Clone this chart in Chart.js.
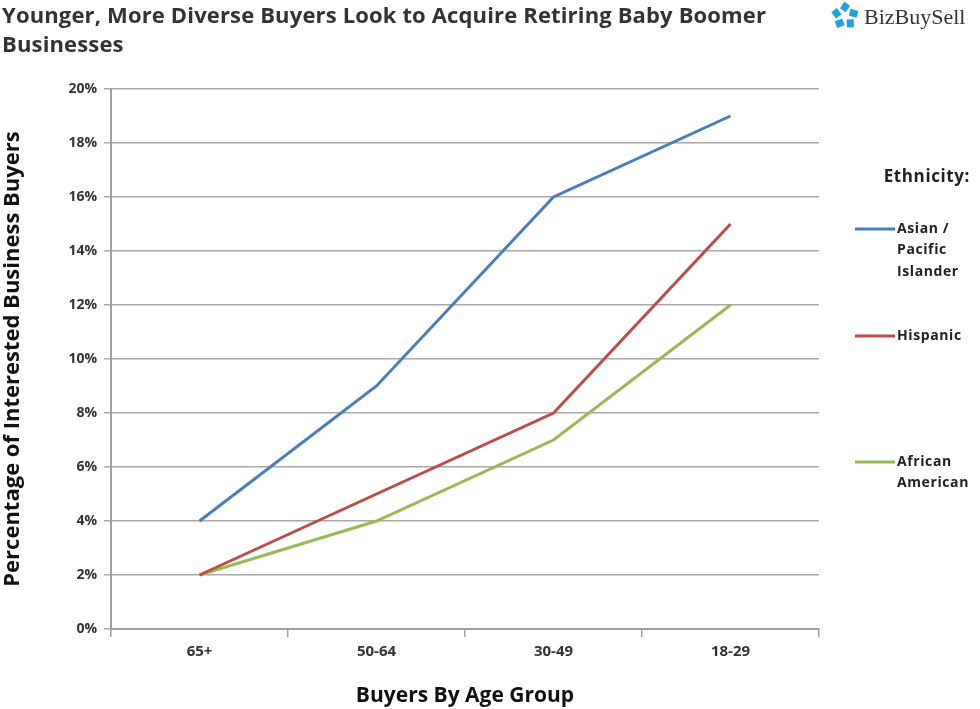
<!DOCTYPE html>
<html>
<head>
<meta charset="utf-8">
<script src="https://cdn.jsdelivr.net/npm/chart.js@4"></script>
<style>
  html, body { margin: 0; padding: 0; background: #fff; }
  #wrap { position: relative; width: 980px; height: 709px; }
</style>
</head>
<body>
<div id="wrap"><canvas id="buyers-chart" width="980" height="709"></canvas></div>
<script>
const ageGroups = ["65+", "50-64", "30-49", "18-29"];
const asianPacific = [4, 9, 16, 19];
const hispanic = [2, 5, 8, 15];
const africanAmerican = [2, 4, 7, 12];
const seriesNames = [["Asian /", "Pacific", "Islander"], ["Hispanic"], ["African", "American"]];
const seriesColors = ["#4a7ebb", "#be4b48", "#98b954"];

const chartTitle = ["Younger, More Diverse Buyers Look to Acquire Retiring Baby Boomer", "Businesses"];

//Draw title, logo and the side legend
const decorPlugin = {
  id: "decor",
  afterDraw(chart) {
    const ctx = chart.ctx;
    ctx.save();
    // title
    ctx.fillStyle = "#333";
    ctx.font = "bold 22px 'Open Sans'";
    ctx.letterSpacing = "0.15px";
    ctx.textBaseline = "alphabetic";
    ctx.textAlign = "left";
    ctx.fillText(chartTitle[0], 2, 23);
    ctx.fillText(chartTitle[1], 2, 52);

    // logo icon
    ctx.letterSpacing = "0px";
    ctx.fillStyle = "#1fa3dc";
    const cx = 845, cy = 16;
    for (let i = 0; i < 5; i++) {
      const a = i * Math.PI * 2 / 5 - Math.PI / 2;
      ctx.save();
      ctx.translate(cx + Math.cos(a) * 9, cy + Math.sin(a) * 9);
      ctx.rotate(a + 0.6);
      ctx.fillRect(-4, -3.5, 8, 7);
      ctx.restore();
    }
    ctx.fillStyle = "#333";
    ctx.font = "22px 'Liberation Serif'";
    ctx.fillText("BizBuySell", 864, 24);

    // legend
    ctx.fillStyle = "#222";
    ctx.font = "bold 17px 'Open Sans'";
    ctx.letterSpacing = "0.6px";
    ctx.textAlign = "right";
    ctx.fillText("Ethnicity:", 970, 182);
    ctx.textAlign = "left";
    ctx.font = "bold 14px 'Open Sans'";
    const rowY = [229, 336, 462];
    chart.data.datasets.forEach((ds, i) => {
      ctx.strokeStyle = ds.borderColor;
      ctx.lineWidth = 3;
      ctx.beginPath();
      ctx.moveTo(855, rowY[i]);
      ctx.lineTo(895, rowY[i]);
      ctx.stroke();
      ctx.textBaseline = "middle";
      seriesNames[i].forEach((line, j) => {
        ctx.fillText(line, 897, rowY[i] + j * 21.5);
      });
    });
    ctx.restore();
  }
};

const ctx = document.getElementById("buyers-chart").getContext("2d");
const buyersChart = new Chart(ctx, {
  type: "line",
  data: {
    labels: ageGroups,
    datasets: [
      { label: "Asian / Pacific Islander", data: asianPacific, borderColor: seriesColors[0] },
      { label: "Hispanic", data: hispanic, borderColor: seriesColors[1] },
      { label: "African American", data: africanAmerican, borderColor: seriesColors[2] },
    ].map(ds => Object.assign(ds, { borderWidth: 3, pointRadius: 0, tension: 0, fill: false })),
  },
  options: {
    responsive: false,
    animation: false,
    layout: { padding: { top: 89, right: 161, left: 0, bottom: 0 } },
    plugins: {
      legend: { display: false },
      tooltip: { enabled: false },
    },
    scales: {
      x: {
        offset: true,
        grid: {
          offset: true,
          drawOnChartArea: false,
          color: "#a0a0a0",
          lineWidth: 1.5,
          tickLength: 8,
        },
        border: { color: "#a0a0a0", width: 2 },
        ticks: { color: "#333", font: { family: "Open Sans", size: 15, weight: "bold" }, padding: 6 },
        title: {
          display: true,
          text: "Buyers By Age Group",
          color: "#111",
          font: { family: "Open Sans", size: 21, weight: "bold" },
          padding: { top: 12, bottom: 0 },
        },
        afterFit(scale) { scale.height = 80; },
      },
      y: {
        min: 0,
        max: 20,
        grid: { color: "#a8a8a8", lineWidth: 1.5, tickLength: 7 },
        border: { color: "#a0a0a0", width: 2 },
        ticks: {
          stepSize: 2,
          color: "#333",
          font: { family: "Open Sans", size: 14, weight: "bold" },
          padding: 7,
          callback: v => v + "%",
        },
        title: {
          display: true,
          text: "Percentage of Interested Business Buyers",
          color: "#111",
          font: { family: "Open Sans", size: 22, weight: "bold" },
          padding: { top: 0, bottom: 6 },
        },
        afterFit(scale) { scale.width = 111; },
      },
    },
  },
  plugins: [decorPlugin],
});
</script>
</body>
</html>
